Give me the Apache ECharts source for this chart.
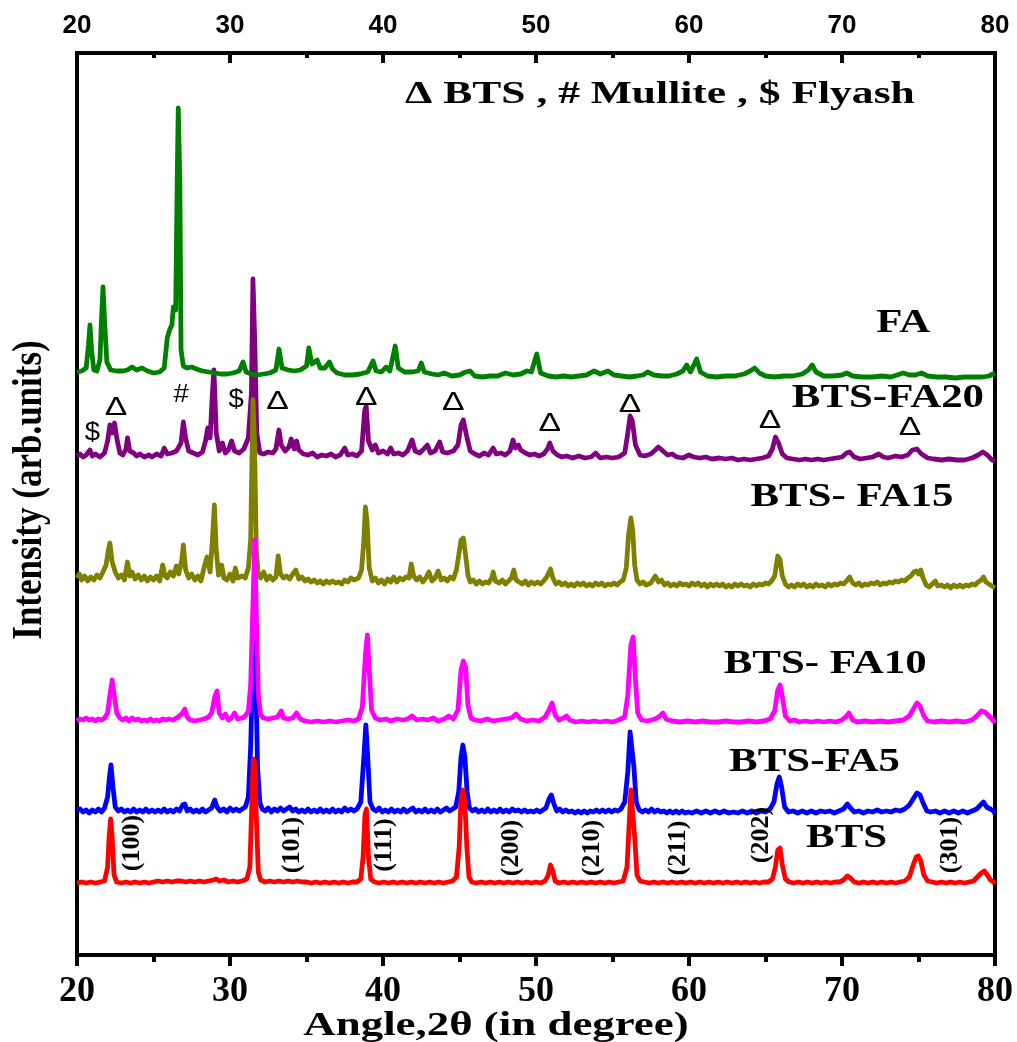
<!DOCTYPE html>
<html><head><meta charset="utf-8">
<script src="https://cdn.jsdelivr.net/npm/echarts@6/dist/echarts.min.js"></script>
<style>html,body{margin:0;padding:0;background:#fff}#c{width:1017px;height:1042px}</style>
</head><body><div id="c"></div>
<script>
// ---- Data (2θ in degrees, intensity in arbitrary units above each pattern's baseline) ----
const xTicks = [20, 30, 40, 50, 60, 70, 80];
const seriesNames = ['FA', 'BTS-FA20', 'BTS- FA15', 'BTS- FA10', 'BTS-FA5', 'BTS'];
const offsets = [575, 492, 365, 230, 138, 68];

const FA = [[20.0,8],[20.3,9],[20.6,12],[20.75,35],[20.85,55],[20.95,30],[21.1,10],[21.3,9],[21.5,20],[21.6,60],[21.7,93],[21.8,60],[21.95,18],[22.2,10],[22.6,9],[23.0,9],[23.3,10],[23.6,13],[23.9,10],[24.25,12],[24.6,9],[25.0,7],[25.4,8],[25.7,12],[25.9,42],[26.05,50],[26.2,55],[26.3,73],[26.45,70],[26.55,200],[26.62,272],[26.72,200],[26.8,30],[26.95,14],[27.2,12],[27.5,13],[27.8,11],[28.2,9],[28.6,8],[29.0,7],[29.4,6],[29.8,6],[30.2,7],[30.6,9],[30.85,18],[31.05,8],[31.4,6],[31.8,5],[32.2,6],[32.6,7],[33.0,10],[33.2,31],[33.4,12],[33.8,10],[34.2,9],[34.6,10],[35.0,14],[35.15,32],[35.35,16],[35.7,20],[35.9,12],[36.2,12],[36.5,18],[36.7,11],[37.0,7],[37.5,5],[38.0,5],[38.5,6],[39.0,8],[39.35,19],[39.55,9],[39.9,8],[40.2,13],[40.45,9],[40.8,34],[41.0,12],[41.4,8],[41.9,8],[42.3,9],[42.5,17],[42.7,8],[43.2,6],[43.6,5],[44.0,7],[44.5,4],[45.0,5],[45.4,8],[45.7,9],[46.0,4],[46.5,3],[47.0,4],[47.5,4],[48.0,7],[48.5,5],[49.0,6],[49.4,9],[49.7,8],[50.05,26],[50.3,7],[50.8,4],[51.3,3],[51.8,4],[52.3,3],[52.8,4],[53.3,5],[53.8,9],[54.2,6],[54.7,9],[55.1,5],[55.6,4],[56.1,3],[56.6,4],[57.0,5],[57.3,8],[57.7,5],[58.2,4],[58.7,4],[59.2,6],[59.6,9],[59.85,15],[60.1,8],[60.5,21],[60.75,8],[61.2,4],[61.8,3],[62.4,4],[63.0,4],[63.6,6],[64.0,9],[64.3,12],[64.6,7],[65.0,4],[65.6,3],[66.2,4],[66.8,4],[67.4,6],[67.8,10],[68.05,15],[68.3,8],[68.8,4],[69.4,4],[70.0,5],[70.3,7],[70.7,4],[71.3,3],[72.0,3],[72.6,4],[73.2,3],[73.6,5],[74.0,7],[74.4,5],[74.8,5],[75.2,7],[75.6,4],[76.2,3],[76.8,3],[77.4,2],[78.0,3],[78.6,3],[79.2,3],[79.6,4],[80.0,7]];

const FA20 = [[20.0,7],[20.2,9],[20.4,6],[20.6,8],[20.85,13],[21.0,7],[21.2,9],[21.5,6],[21.8,10],[22.0,22],[22.15,38],[22.3,30],[22.45,40],[22.6,25],[22.8,10],[23.0,8],[23.2,14],[23.3,25],[23.45,12],[23.7,10],[23.9,7],[24.1,9],[24.4,6],[24.7,8],[24.9,6],[25.2,9],[25.5,7],[25.7,15],[25.9,9],[26.2,10],[26.5,12],[26.8,20],[26.95,41],[27.1,25],[27.3,12],[27.6,10],[27.9,8],[28.2,11],[28.4,22],[28.55,35],[28.7,25],[28.85,70],[28.95,93],[29.1,30],[29.3,12],[29.5,20],[29.7,10],[29.9,13],[30.1,22],[30.3,12],[30.6,10],[30.9,14],[31.2,25],[31.4,70],[31.5,184],[31.62,120],[31.75,30],[31.95,10],[32.2,9],[32.5,11],[32.8,10],[33.0,14],[33.2,33],[33.35,18],[33.6,12],[33.85,16],[34.0,24],[34.2,14],[34.35,22],[34.5,13],[34.8,9],[35.1,8],[35.4,10],[35.7,6],[36.0,8],[36.3,7],[36.6,9],[36.9,6],[37.2,8],[37.5,15],[37.7,8],[38.0,9],[38.3,7],[38.6,12],[38.8,52],[38.9,57],[39.05,22],[39.3,13],[39.5,18],[39.7,10],[40.0,12],[40.3,9],[40.5,15],[40.7,9],[41.0,10],[41.3,8],[41.6,12],[41.9,23],[42.1,12],[42.4,10],[42.6,13],[42.9,18],[43.1,10],[43.4,12],[43.7,21],[43.9,11],[44.2,10],[44.6,12],[44.9,18],[45.1,38],[45.25,43],[45.45,28],[45.7,12],[46.0,9],[46.3,7],[46.6,10],[46.9,8],[47.2,15],[47.4,9],[47.7,10],[48.0,8],[48.3,12],[48.5,23],[48.65,15],[48.85,18],[49.0,13],[49.3,10],[49.6,8],[49.9,9],[50.2,7],[50.5,9],[50.75,14],[50.9,20],[51.1,12],[51.4,8],[51.7,6],[52.0,7],[52.4,5],[52.8,7],[53.2,5],[53.6,6],[53.9,10],[54.2,5],[54.6,6],[55.0,5],[55.4,6],[55.8,10],[56.0,30],[56.15,47],[56.3,42],[56.5,18],[56.8,8],[57.1,7],[57.5,9],[57.8,13],[58.0,16],[58.3,12],[58.6,8],[58.9,9],[59.2,6],[59.6,5],[60.0,8],[60.3,6],[60.7,5],[61.1,6],[61.5,4],[62.0,5],[62.4,4],[62.8,5],[63.2,3],[63.6,4],[64.0,3],[64.4,4],[64.8,5],[65.2,7],[65.45,14],[65.65,26],[65.85,20],[66.1,9],[66.4,5],[66.8,4],[67.2,3],[67.6,4],[68.0,3],[68.4,4],[68.8,3],[69.2,4],[69.6,5],[70.0,6],[70.3,10],[70.5,11],[70.8,6],[71.2,4],[71.6,5],[72.0,6],[72.4,9],[72.7,6],[73.0,5],[73.5,7],[73.9,6],[74.3,8],[74.6,13],[74.9,14],[75.2,9],[75.6,5],[76.0,4],[76.5,3],[77.0,4],[77.5,3],[78.0,3],[78.5,5],[78.9,8],[79.2,11],[79.5,8],[79.8,3],[80.0,2]];

const FA15 = [[20.0,12],[20.15,16],[20.3,10],[20.5,14],[20.7,9],[20.9,13],[21.1,10],[21.3,15],[21.5,12],[21.7,18],[21.9,25],[22.05,40],[22.15,47],[22.3,28],[22.5,18],[22.7,12],[22.9,15],[23.1,10],[23.3,28],[23.45,14],[23.6,18],[23.8,11],[24.0,15],[24.2,10],[24.4,14],[24.6,9],[24.8,13],[25.0,10],[25.2,14],[25.4,9],[25.6,25],[25.75,14],[25.9,12],[26.1,18],[26.3,14],[26.5,24],[26.65,16],[26.85,30],[26.95,45],[27.1,20],[27.3,12],[27.5,16],[27.7,10],[27.9,14],[28.1,9],[28.3,22],[28.5,33],[28.7,18],[28.85,50],[28.98,85],[29.1,40],[29.25,15],[29.45,25],[29.6,12],[29.8,10],[30.0,16],[30.2,9],[30.35,22],[30.5,12],[30.8,14],[31.0,12],[31.2,22],[31.35,50],[31.5,190],[31.6,150],[31.72,40],[31.85,15],[32.0,12],[32.2,18],[32.4,10],[32.6,14],[32.8,10],[33.0,13],[33.15,34],[33.3,16],[33.5,12],[33.7,14],[33.9,11],[34.1,16],[34.3,20],[34.5,11],[34.7,13],[34.9,9],[35.1,11],[35.3,8],[35.5,10],[35.7,7],[35.9,9],[36.1,6],[36.3,9],[36.5,7],[36.7,9],[36.9,7],[37.1,8],[37.3,6],[37.5,10],[37.7,8],[37.9,12],[38.1,10],[38.4,12],[38.6,20],[38.75,50],[38.85,83],[38.95,70],[39.1,22],[39.3,9],[39.5,12],[39.7,7],[39.9,10],[40.1,6],[40.3,11],[40.5,8],[40.7,13],[40.9,8],[41.1,12],[41.3,10],[41.5,13],[41.7,12],[41.85,26],[42.0,14],[42.2,10],[42.4,13],[42.6,8],[42.8,12],[43.0,18],[43.2,9],[43.4,12],[43.6,19],[43.8,10],[44.0,12],[44.2,9],[44.4,13],[44.6,11],[44.8,20],[45.0,40],[45.1,50],[45.25,52],[45.4,35],[45.55,15],[45.7,8],[45.9,10],[46.1,6],[46.3,9],[46.5,6],[46.7,8],[46.9,7],[47.1,12],[47.2,18],[47.35,9],[47.6,7],[47.8,10],[48.0,6],[48.2,9],[48.4,12],[48.55,20],[48.7,10],[48.9,8],[49.1,6],[49.3,9],[49.5,5],[49.7,8],[49.9,6],[50.1,8],[50.3,6],[50.5,9],[50.7,13],[50.95,21],[51.1,12],[51.3,6],[51.5,8],[51.7,5],[51.9,7],[52.1,4],[52.3,6],[52.5,4],[52.7,7],[52.9,5],[53.1,7],[53.3,4],[53.5,6],[53.7,4],[53.9,7],[54.1,5],[54.3,7],[54.5,4],[54.7,6],[54.9,5],[55.1,7],[55.3,5],[55.5,8],[55.7,10],[55.9,22],[56.05,55],[56.2,72],[56.32,60],[56.45,25],[56.6,10],[56.8,6],[57.0,8],[57.2,5],[57.5,7],[57.8,14],[58.0,8],[58.2,10],[58.4,5],[58.6,7],[58.8,4],[59.0,6],[59.2,4],[59.4,7],[59.6,5],[59.8,6],[60.0,4],[60.2,7],[60.4,5],[60.6,7],[60.8,4],[61.0,6],[61.2,3],[61.4,6],[61.6,4],[61.8,6],[62.0,4],[62.2,6],[62.4,3],[62.6,5],[62.8,3],[63.0,6],[63.2,4],[63.4,6],[63.6,4],[63.8,5],[64.0,3],[64.2,6],[64.4,4],[64.6,6],[64.8,5],[65.0,7],[65.2,6],[65.4,9],[65.6,14],[65.8,34],[65.95,30],[66.1,14],[66.3,6],[66.5,3],[66.7,5],[66.9,3],[67.1,6],[67.3,4],[67.5,6],[67.7,3],[67.9,5],[68.1,3],[68.3,6],[68.5,4],[68.7,5],[68.9,3],[69.1,6],[69.3,4],[69.5,6],[69.7,5],[69.9,7],[70.1,6],[70.3,9],[70.5,13],[70.7,7],[70.9,5],[71.1,7],[71.3,4],[71.5,6],[71.7,5],[71.9,7],[72.1,6],[72.3,8],[72.5,5],[72.7,7],[72.9,6],[73.1,8],[73.3,7],[73.5,9],[73.7,8],[73.9,10],[74.1,9],[74.3,12],[74.5,14],[74.7,18],[74.85,19],[75.0,16],[75.15,20],[75.3,12],[75.5,5],[75.7,3],[75.9,6],[76.1,9],[76.25,4],[76.5,5],[76.7,3],[76.9,5],[77.1,2],[77.3,5],[77.5,3],[77.7,5],[77.9,3],[78.1,5],[78.3,4],[78.5,6],[78.7,5],[78.9,8],[79.1,10],[79.25,13],[79.4,8],[79.6,6],[79.8,4],[80.0,2]];

const FA10 = [[20.0,4],[20.2,6],[20.4,5],[20.6,7],[20.8,5],[21.0,6],[21.2,4],[21.4,6],[21.6,5],[21.8,7],[22.0,12],[22.15,30],[22.3,45],[22.45,28],[22.6,12],[22.8,7],[23.0,5],[23.2,7],[23.4,4],[23.6,7],[23.8,5],[24.0,6],[24.2,4],[24.4,5],[24.6,4],[24.8,6],[25.0,4],[25.2,5],[25.4,4],[25.6,6],[25.8,5],[26.0,6],[26.3,5],[26.6,8],[26.85,11],[27.05,16],[27.2,8],[27.4,5],[27.7,4],[28.0,5],[28.3,6],[28.6,8],[28.8,12],[29.0,28],[29.15,34],[29.3,12],[29.5,7],[29.7,11],[29.9,5],[30.1,7],[30.3,12],[30.5,6],[30.8,7],[31.0,9],[31.2,14],[31.35,40],[31.5,120],[31.62,185],[31.72,110],[31.85,30],[32.0,10],[32.2,7],[32.5,6],[32.8,7],[33.1,8],[33.35,14],[33.5,7],[33.8,6],[34.1,7],[34.35,12],[34.6,6],[34.9,4],[35.3,3],[35.7,4],[36.1,3],[36.5,4],[36.9,3],[37.3,4],[37.7,5],[38.1,4],[38.4,6],[38.65,18],[38.85,70],[38.98,90],[39.1,55],[39.25,15],[39.5,7],[39.8,5],[40.2,6],[40.5,4],[40.9,6],[41.3,5],[41.6,6],[41.9,9],[42.2,5],[42.6,6],[42.9,5],[43.3,7],[43.6,4],[44.0,6],[44.3,9],[44.6,6],[44.9,15],[45.1,55],[45.25,64],[45.4,58],[45.55,20],[45.75,7],[46.0,5],[46.4,4],[46.8,6],[47.2,4],[47.6,5],[48.0,6],[48.4,7],[48.7,11],[49.0,6],[49.4,4],[49.8,5],[50.2,4],[50.6,8],[50.85,15],[51.05,22],[51.25,10],[51.5,5],[51.8,7],[52.0,9],[52.2,5],[52.6,3],[53.0,4],[53.4,3],[53.8,4],[54.2,3],[54.6,4],[55.0,3],[55.4,5],[55.8,8],[56.0,30],[56.2,80],[56.35,88],[56.5,45],[56.65,12],[56.9,5],[57.3,4],[57.8,6],[58.1,9],[58.3,12],[58.5,6],[58.9,4],[59.4,3],[59.9,4],[60.4,3],[60.9,4],[61.4,3],[61.9,3],[62.4,4],[62.9,3],[63.4,3],[63.9,4],[64.4,3],[64.9,4],[65.3,6],[65.6,14],[65.8,35],[65.95,40],[66.1,28],[66.3,9],[66.6,4],[66.9,5],[67.2,3],[67.6,4],[68.0,3],[68.4,4],[68.8,3],[69.2,4],[69.6,3],[70.0,5],[70.3,9],[70.45,12],[70.7,5],[71.0,3],[71.5,4],[72.0,3],[72.5,4],[73.0,3],[73.5,4],[74.0,5],[74.4,9],[74.7,17],[74.9,22],[75.1,19],[75.35,9],[75.6,4],[76.0,3],[76.5,4],[77.0,3],[77.5,4],[78.0,3],[78.5,5],[78.8,9],[79.1,14],[79.35,13],[79.6,9],[79.8,6],[80.0,2]];

const FA5 = [[20.0,6],[20.2,8],[20.4,5],[20.6,7],[20.8,4],[21.0,7],[21.2,5],[21.4,8],[21.6,5],[21.8,9],[22.0,20],[22.12,40],[22.22,52],[22.35,30],[22.5,10],[22.7,6],[22.9,8],[23.1,5],[23.3,7],[23.5,5],[23.7,8],[23.9,5],[24.1,7],[24.3,5],[24.5,8],[24.7,5],[24.9,7],[25.1,5],[25.3,7],[25.5,5],[25.7,8],[25.9,5],[26.1,7],[26.3,5],[26.5,8],[26.7,6],[26.9,12],[27.05,13],[27.2,6],[27.4,8],[27.6,5],[27.8,7],[28.0,5],[28.2,8],[28.4,5],[28.6,7],[28.8,9],[29.0,17],[29.15,10],[29.35,6],[29.6,8],[29.8,5],[30.0,9],[30.2,6],[30.4,8],[30.6,6],[30.8,8],[31.0,10],[31.2,20],[31.35,70],[31.5,160],[31.58,192],[31.68,150],[31.8,50],[31.95,15],[32.1,8],[32.3,6],[32.5,9],[32.7,5],[32.9,8],[33.1,6],[33.3,9],[33.5,6],[33.7,8],[33.9,10],[34.1,6],[34.3,8],[34.5,5],[34.7,7],[34.9,5],[35.1,8],[35.3,5],[35.5,7],[35.7,5],[35.9,8],[36.1,5],[36.3,7],[36.5,5],[36.7,8],[36.9,5],[37.1,7],[37.3,5],[37.5,9],[37.7,6],[37.9,8],[38.1,6],[38.3,8],[38.55,15],[38.75,60],[38.88,92],[39.0,60],[39.15,15],[39.35,8],[39.55,6],[39.75,9],[39.95,5],[40.15,7],[40.35,5],[40.55,8],[40.75,5],[40.95,7],[41.15,5],[41.35,8],[41.55,5],[41.75,7],[41.95,9],[42.15,5],[42.35,7],[42.55,5],[42.75,8],[42.95,5],[43.15,7],[43.35,5],[43.55,8],[43.75,5],[43.95,7],[44.15,9],[44.35,6],[44.55,8],[44.75,10],[44.95,25],[45.1,60],[45.22,72],[45.35,60],[45.5,25],[45.65,9],[45.85,6],[46.05,8],[46.25,5],[46.45,7],[46.65,5],[46.85,8],[47.05,5],[47.25,7],[47.45,5],[47.65,8],[47.85,5],[48.05,7],[48.25,5],[48.45,8],[48.65,6],[48.85,7],[49.05,5],[49.25,7],[49.45,5],[49.65,6],[49.85,5],[50.05,7],[50.25,5],[50.45,7],[50.65,9],[50.85,18],[51.0,22],[51.15,14],[51.35,6],[51.55,8],[51.75,5],[51.95,7],[52.15,5],[52.35,6],[52.55,4],[52.75,6],[52.95,4],[53.15,6],[53.35,4],[53.55,6],[53.75,5],[53.95,7],[54.15,5],[54.35,7],[54.55,5],[54.75,7],[54.95,5],[55.15,7],[55.35,6],[55.55,8],[55.8,15],[56.0,45],[56.15,85],[56.27,87],[56.4,50],[56.55,15],[56.75,7],[56.95,5],[57.15,7],[57.35,5],[57.55,8],[57.75,5],[57.95,7],[58.15,5],[58.35,6],[58.55,4],[58.75,6],[58.95,4],[59.15,6],[59.35,4],[59.55,6],[59.75,4],[59.95,5],[60.2,4],[60.5,6],[60.8,4],[61.1,6],[61.4,4],[61.7,6],[62.0,4],[62.3,6],[62.6,4],[62.9,5],[63.2,4],[63.5,6],[63.8,4],[64.1,6],[64.4,4],[64.7,6],[65.0,5],[65.3,8],[65.55,15],[65.75,33],[65.9,40],[66.05,30],[66.25,10],[66.5,5],[66.8,6],[67.1,4],[67.4,6],[67.7,4],[68.0,6],[68.3,4],[68.6,6],[68.9,5],[69.2,6],[69.5,4],[69.8,6],[70.1,8],[70.35,13],[70.55,9],[70.8,5],[71.1,6],[71.4,4],[71.7,6],[72.0,5],[72.3,7],[72.6,5],[72.9,6],[73.2,5],[73.5,7],[73.8,6],[74.1,8],[74.4,12],[74.65,18],[74.9,24],[75.1,22],[75.3,14],[75.55,6],[75.8,5],[76.1,6],[76.4,4],[76.7,6],[77.0,4],[77.3,6],[77.6,4],[77.9,6],[78.2,4],[78.5,6],[78.8,8],[79.05,12],[79.25,15],[79.45,10],[79.7,8],[79.9,6],[80.0,3]];

const BTS = [[20.0,4],[20.3,5],[20.6,4],[20.9,5],[21.2,4],[21.5,5],[21.8,6],[22.0,20],[22.1,50],[22.2,68],[22.3,50],[22.42,12],[22.6,5],[22.9,4],[23.2,5],[23.5,4],[23.8,5],[24.1,4],[24.4,5],[24.7,4],[25.0,5],[25.3,6],[25.6,5],[25.9,6],[26.2,5],[26.5,6],[26.8,6],[27.1,5],[27.4,6],[27.7,5],[28.0,6],[28.3,5],[28.6,6],[28.9,7],[29.1,8],[29.3,6],[29.6,7],[29.9,5],[30.2,6],[30.5,5],[30.8,6],[31.1,8],[31.3,20],[31.42,80],[31.52,128],[31.62,125],[31.72,70],[31.85,15],[32.0,7],[32.3,5],[32.6,6],[32.9,5],[33.2,6],[33.5,5],[33.8,6],[34.1,5],[34.4,6],[34.7,5],[35.0,5],[35.3,4],[35.6,5],[35.9,4],[36.2,5],[36.5,4],[36.8,5],[37.1,4],[37.4,5],[37.7,4],[38.0,5],[38.3,5],[38.55,8],[38.7,30],[38.82,72],[38.92,78],[39.05,30],[39.2,8],[39.45,5],[39.75,4],[40.05,5],[40.35,4],[40.65,5],[40.95,4],[41.25,5],[41.55,4],[41.85,5],[42.15,4],[42.45,5],[42.75,4],[43.05,5],[43.35,4],[43.65,5],[43.95,4],[44.25,5],[44.55,6],[44.8,10],[44.98,40],[45.1,88],[45.22,97],[45.35,85],[45.48,40],[45.62,10],[45.8,5],[46.1,4],[46.4,5],[46.7,4],[47.0,5],[47.3,4],[47.6,5],[47.9,4],[48.2,5],[48.5,4],[48.8,5],[49.1,4],[49.4,5],[49.7,4],[50.0,5],[50.3,4],[50.6,6],[50.8,12],[50.95,22],[51.1,16],[51.25,6],[51.5,4],[51.8,5],[52.1,4],[52.4,5],[52.7,4],[53.0,5],[53.3,4],[53.6,5],[53.9,4],[54.2,5],[54.5,4],[54.8,5],[55.1,4],[55.4,5],[55.7,6],[55.95,20],[56.08,60],[56.2,97],[56.32,95],[56.45,50],[56.6,12],[56.8,6],[57.1,5],[57.4,4],[57.7,5],[58.0,4],[58.3,5],[58.6,4],[58.9,5],[59.2,4],[59.5,5],[59.8,4],[60.1,5],[60.4,4],[60.7,5],[61.0,4],[61.3,5],[61.6,4],[61.9,5],[62.2,4],[62.5,5],[62.8,4],[63.1,5],[63.4,4],[63.7,5],[64.0,4],[64.3,5],[64.6,4],[64.9,5],[65.2,5],[65.45,8],[65.65,20],[65.8,37],[65.95,39],[66.1,22],[66.3,8],[66.55,5],[66.85,4],[67.15,5],[67.45,4],[67.75,5],[68.05,4],[68.35,5],[68.65,4],[68.95,5],[69.25,4],[69.55,5],[69.85,5],[70.1,7],[70.35,11],[70.55,9],[70.8,5],[71.1,4],[71.4,5],[71.7,4],[72.0,5],[72.3,4],[72.6,5],[72.9,4],[73.2,5],[73.5,4],[73.8,5],[74.1,6],[74.4,10],[74.65,22],[74.85,30],[75.0,31],[75.15,26],[75.35,12],[75.6,6],[75.9,5],[76.2,4],[76.5,5],[76.8,4],[77.1,5],[77.4,4],[77.7,5],[78.0,4],[78.3,5],[78.6,6],[78.85,10],[79.1,14],[79.3,16],[79.5,12],[79.7,7],[79.9,5],[80.0,3]];

// Annotation texts and their anchors in data coordinates [2θ, stacked value]
const phaseMarks = [['$',21.0,522],['Δ',22.55,547],['#',26.8,560],['$',30.4,555],['Δ',33.1,553],['Δ',38.9,557],['Δ',44.6,552],['Δ',50.9,531],['Δ',56.15,550],['Δ',65.3,534],['Δ',74.45,527]];
const millerLabels = [['(100)',23.6,112],['(101)',34.05,110],['(111)',40.1,110],['(200)',48.4,107],['(210)',53.65,107],['(211)',59.3,107],['(202)',64.7,120],['(301)',77.1,110]];
const sampleLabels = [['FA',74.0,632],['BTS-FA20',73.0,557],['BTS- FA15',70.65,458],['BTS- FA10',68.9,291],['BTS-FA5',68.2,193],['BTS',70.3,117]];
const legendText = ['Δ BTS , # Mullite , $ Flyash', 58.1, 860];

// ---- Chart ----
const patterns = [FA20, FA15, FA5, FA10, BTS, FA];
const order = [1, 2, 4, 3, 5, 0]; // index into seriesNames/offsets
const colors = ['#008000', '#800080', '#808000', '#FF00FF', '#0000FF', '#FF0000'];

const chart = echarts.init(document.getElementById('c'), null, {renderer: 'canvas'});
const serif = '"Liberation Serif", "Times New Roman", serif';
const sans = '"Liberation Sans", Arial, sans-serif';

const series = patterns.map((pts, k) => {
  const i = order[k];
  return {
    name: seriesNames[i], type: 'line', xAxisIndex: 0, yAxisIndex: 0,
    showSymbol: false, symbol: 'none', animation: false,
    lineStyle: {color: colors[i], width: 4.8, join: 'round'},
    data: pts.map(p => [p[0], p[1] + offsets[i]])
  };
});

chart.setOption({
  backgroundColor: '#fff',
  animation: false,
  grid: {left: 77, right: 22, top: 53, bottom: 87, show: true, borderColor: '#000', borderWidth: 4, backgroundColor: 'transparent'},
  xAxis: [
    {type: 'value', position: 'bottom', min: xTicks[0], max: xTicks[xTicks.length-1], interval: 10,
     axisLine: {show: true, lineStyle: {color: '#000', width: 4}},
     axisTick: {show: true, inside: false, length: 11, lineStyle: {color: '#000', width: 4}},
     minorTick: {show: true, splitNumber: 2, length: 7, lineStyle: {color: '#000', width: 4}},
     splitLine: {show: false},
     axisLabel: {margin: 19, color: '#000', fontFamily: serif, fontWeight: 'bold', fontSize: 36}},
    {type: 'value', position: 'top', min: xTicks[0], max: xTicks[xTicks.length-1], interval: 10,
     axisLine: {show: true, lineStyle: {color: '#000', width: 4}},
     axisTick: {show: true, inside: true, length: 10, lineStyle: {color: '#000', width: 4}},
     minorTick: {show: true, splitNumber: 2, length: 5, lineStyle: {color: '#000', width: 4}},
     splitLine: {show: false},
     axisLabel: {margin: 14, color: '#000', fontFamily: sans, fontWeight: 'bold', fontSize: 26}}
  ],
  yAxis: {type: 'value', min: 0, max: 902, show: false},
  series: series
});

function txt(str, x, y, font, sx, rot) {
  return {type: 'text', x: x, y: y, scaleX: sx || 1, rotation: rot || 0, silent: true, z: 100,
    style: {text: str, x: 0, y: 0, font: font, fill: '#000', align: 'center', verticalAlign: 'middle', textAlign: 'center', textVerticalAlign: 'middle'}};
}
const px = (a, v) => chart.convertToPixel({gridIndex: 0}, [a, v]);
const els = [];
let p = px(legendText[1], legendText[2]);
els.push(txt(legendText[0], p[0], p[1], 'bold 32px ' + serif, 1.36));
sampleLabels.forEach(s => { const q = px(s[1], s[2]); els.push(txt(s[0], q[0], q[1], 'bold 33px ' + serif, 1.3)); });
phaseMarks.forEach(s => { const q = px(s[1], s[2]); els.push(txt(s[0], q[0], q[1], '25px ' + sans, s[0] === 'Δ' ? 1.35 : 1.1)); });
millerLabels.forEach(s => { const q = px(s[1], s[2]); els.push(txt(s[0], q[0], q[1], 'bold 26px ' + serif, 1, Math.PI / 2)); });
// axis titles
els.push(txt('Angle,2θ (in degree)', 496, 1026, 'bold 34px ' + serif, 1.32));
els.push({type: 'text', x: 30, y: 490, rotation: Math.PI / 2, scaleY: 1.2, silent: true, z: 100,
  style: {text: 'Intensity (arb.units)', x: 0, y: 0, font: 'bold 35px ' + serif, fill: '#000', align: 'center', verticalAlign: 'middle', textAlign: 'center', textVerticalAlign: 'middle'}});
chart.setOption({graphic: {elements: els}});
</script></body></html>
